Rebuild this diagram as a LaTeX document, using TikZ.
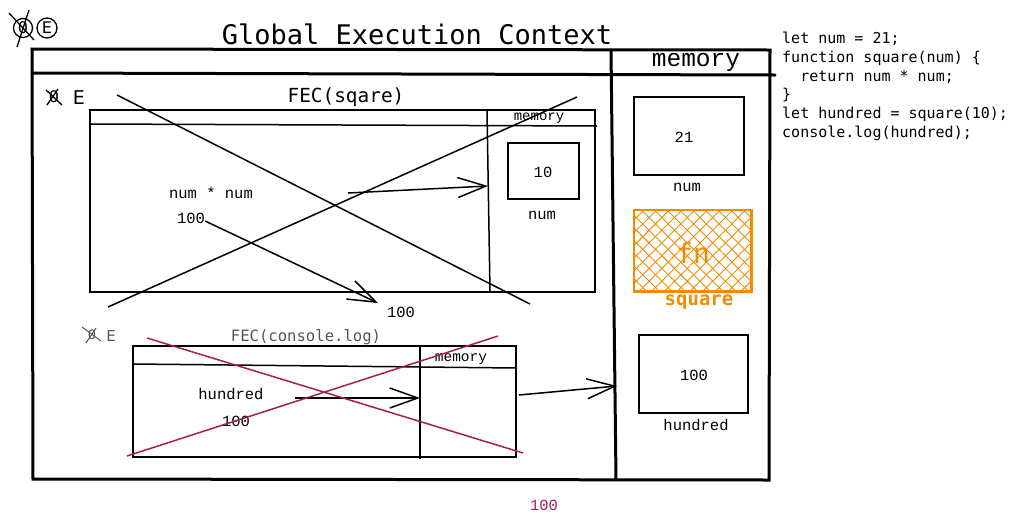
\documentclass[tikz,border=0pt]{standalone}
\usepackage{fontspec}
\setmainfont{DejaVu Sans}
\newfontfamily\cascade{DejaVu Sans Mono}
\newfontfamily\cour{Liberation Mono}
\usetikzlibrary{arrows.meta,patterns.meta}
\definecolor{crim}{HTML}{A61E4D}
\definecolor{fnorange}{HTML}{F08C00}
\definecolor{greytxt}{HTML}{555555}
\begin{document}
\begin{tikzpicture}[x=1pt,y=-1pt,
  frame/.style={line width=3pt, line cap=round},
  thinln/.style={line width=1.5pt},
  membox/.style={draw, line width=1.5pt, inner sep=0pt},
  barb/.style={line width=1.5pt, -{Straight Barb[length=28pt,width=20pt,line width=1.5pt]}},
  lbl/.style={font=\cour\fontsize{15.5}{17}\selectfont, inner sep=0pt},
  crossln/.style={line width=1.3pt},
  redln/.style={line width=1.5pt, draw=crim}]
\useasboundingbox (0,0) rectangle (1021,523);

% top-left symbol
\node[circle, draw, line width=1.3pt, minimum size=19pt, inner sep=0pt, font=\fontsize{16}{16}\selectfont] (sym0) at (23,28) {0};
\node[circle, draw, line width=1.3pt, minimum size=20pt, inner sep=0pt, font=\fontsize{16}{16}\selectfont] (symE) at (47,28) {E};
\draw[crossln] (9,13) -- (34,40);
\draw[crossln] (29,10) -- (17,47);

% title
\node[font=\cascade\fontsize{27}{30}\selectfont, inner sep=0pt] (title) at (417,34) {Global Execution Context};

% GEC frame
\coordinate (g1) at (32,49);
\coordinate (g2) at (770,50);
\coordinate (g3) at (769,480);
\coordinate (g4) at (33,479);
\coordinate (h1) at (32,73);
\coordinate (h2) at (775,75);
\coordinate (d1) at (611,50);
\coordinate (d2) at (616,479);
\draw[frame] (g1) -- (g2) -- (g3) -- (g4) -- cycle;
\draw[frame] (h1) -- (h2);
\draw[frame] (d1) -- (d2);
\node[font=\cour\fontsize{24.5}{26}\selectfont, inner sep=0pt] (gmem) at (696,62) {memory};

% GEC memory boxes
\node[membox, minimum width=110pt, minimum height=78pt] (v21) at (689,136) {};
\node[lbl] (t21) at (684,137) {21};
\node[lbl] (n21) at (687,187) {num};

\node[draw=fnorange, line width=1.5pt, minimum width=117pt, minimum height=81pt, inner sep=0pt] (fnbox) at (692.5,250.5) {};
\begin{scope}
\clip (fnbox.north west) rectangle (fnbox.south east);
\path[pattern={Lines[angle=45,distance=9pt,line width=0.9pt]}, pattern color=fnorange] (fnbox.north west) rectangle (fnbox.south east);
\path[pattern={Lines[angle=-45,distance=9pt,line width=0.9pt]}, pattern color=fnorange] (fnbox.north west) rectangle (fnbox.south east);
\end{scope}
\draw[draw=fnorange, line width=1.5pt] (fnbox.north west) rectangle (fnbox.south east);
\node[font=\cascade\fontsize{28}{29}\selectfont, text=fnorange, inner sep=0pt] (fntxt) at (693,253) {fn};
\node[font=\cascade\bfseries\fontsize{19}{20}\selectfont, text=fnorange, inner sep=0pt] (fnname) at (699,302) {square};

\node[membox, minimum width=109pt, minimum height=78pt] (v100) at (693.5,374) {};
\node[lbl] (t100) at (694,375) {100};
\node[lbl] (nhund) at (696,425) {hundred};

% code
\node[font=\cascade\fontsize{15}{18.7}\selectfont, align=left, anchor=north west, inner sep=0pt] (code) at (782,32) {%
let num = 21;\\
function square(num) \{\\
\hspace*{18.1pt}return num * num;\\
\}\\
let hundred = square(10);\\
console.log(hundred);};

% FEC(square)
\node[inner sep=0pt, font=\fontsize{16}{16}\selectfont] (f1z) at (54,97) {0};
\draw[crossln] (46,90) -- (62,105);
\draw[crossln] (58,89) -- (47,105);
\node[inner sep=0pt, font=\fontsize{19}{20}\selectfont] (f1e) at (79,98) {E};
\node[font=\cascade\fontsize{19.4}{21}\selectfont, inner sep=0pt] (fec1t) at (346,97) {FEC(sqare)};

\node[membox, minimum width=505pt, minimum height=182pt] (fec1) at (342.5,201) {};
\coordinate (f1h1) at (90,124);
\coordinate (f1h2) at (597,126);
\coordinate (f1d1) at (487,110);
\coordinate (f1d2) at (490,292);
\draw[thinln] (f1h1) -- (f1h2);
\draw[thinln] (f1d1) -- (f1d2);
\node[font=\cour\fontsize{14}{15}\selectfont, inner sep=0pt] (f1mem) at (539,118.5) {memory};
\node[membox, minimum width=71pt, minimum height=56pt] (v10) at (543.5,171) {};
\node[lbl] (t10) at (543,172) {10};
\node[lbl] (n10) at (542,215) {num};

\node[lbl] (nn) at (211,193) {num * num};
\node[lbl] (h100a) at (191,218) {100};
\node[lbl] (h100b) at (401,312) {100};

\coordinate (a1s) at (348,193);
\coordinate (a1e) at (488,186);
\draw[barb] (a1s) -- (a1e);
\coordinate (a2e) at (378,303);
\draw[barb] (h100a.east) ++(0,3) -- (a2e);

% big X on FEC(square)
\coordinate (x1a) at (117,95);
\coordinate (x1b) at (530,304);
\coordinate (x2a) at (108,307);
\coordinate (x2b) at (577,97);
\draw[thinln] (x1a) -- (x1b);
\draw[thinln] (x2a) -- (x2b);

% FEC(console.log)
\node[inner sep=0pt, text=greytxt, font=\fontsize{13}{13}\selectfont] (f2z) at (92,335) {0};
\draw[line width=1pt, greytxt] (82,327) -- (101,341);
\draw[line width=1pt, greytxt] (96,328) -- (86,343);
\node[inner sep=0pt, text=greytxt, font=\fontsize{15}{15}\selectfont] (f2e) at (111,336) {E};
\node[font=\cascade\fontsize{15.6}{17}\selectfont, text=greytxt, inner sep=0pt] (fec2t) at (306,337) {FEC(console.log)};

\node[membox, minimum width=383pt, minimum height=111pt] (fec2) at (324.5,401.5) {};
\coordinate (f2h1) at (133,364);
\coordinate (f2h2) at (517,368);
\coordinate (f2d1) at (420,346);
\coordinate (f2d2) at (420,459);
\draw[thinln] (f2h1) -- (f2h2);
\draw[thinln] (f2d1) -- (f2d2);
\node[font=\cour\fontsize{14.5}{15}\selectfont, inner sep=0pt] (f2mem) at (461,359) {memory};
\node[lbl] (hund2) at (231,394) {hundred};
\node[lbl] (h100c) at (236,421) {100};

\coordinate (a3s) at (295,398);
\coordinate (a3e) at (420,398);
\draw[barb] (a3s) -- (a3e);
\coordinate (a4s) at (519,395);
\coordinate (a4e) at (617,386);
\draw[barb] (a4s) -- (a4e);

% red X
\coordinate (r1a) at (147,338);
\coordinate (r1b) at (523,453);
\coordinate (r2a) at (127,456);
\coordinate (r2b) at (498,336);
\draw[redln] (r1a) -- (r1b);
\draw[redln] (r2a) -- (r2b);

\node[lbl, text=crim] (out100) at (544,505) {100};
\end{tikzpicture}
\end{document}
